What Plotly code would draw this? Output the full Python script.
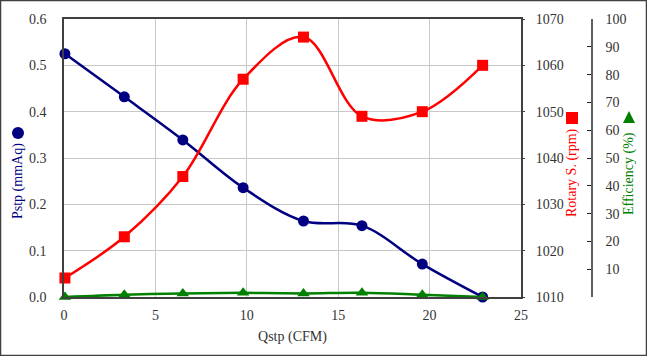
import plotly.graph_objects as go

W, H = 647, 356

qstp = [0.05, 3.3, 6.5, 9.8, 13.1, 16.3, 19.6, 22.9]
pstp = [0.525, 0.432, 0.339, 0.236, 0.164, 0.154, 0.071, 0.0]
rotary = [1014.1, 1023.0, 1036.0, 1057.0, 1066.1, 1049.0, 1050.0, 1060.0]
efficiency = [0.0, 0.8, 1.3, 1.5, 1.3, 1.5, 0.8, 0.0]

x_ticks = [0, 5, 10, 15, 20, 25]
p_ticks = [0.0, 0.1, 0.2, 0.3, 0.4, 0.5, 0.6]
r_ticks = [1010, 1020, 1030, 1040, 1050, 1060, 1070]
e_ticks = [0, 10, 20, 30, 40, 50, 60, 70, 80, 90, 100]
e_text = [""] + [str(v) for v in e_ticks[1:]]

FONT = "Liberation Serif, Times New Roman, serif"
BLUE, RED, GREEN = "#000080", "#ff0000", "#008000"
AXC = "#404040"

def px(x):
    return x / W

def py(y):
    return 1 - y / H

fig = go.Figure()
fig.add_trace(go.Scatter(x=qstp, y=pstp, mode="lines+markers", line=dict(color=BLUE, width=2.5, shape="spline"),
                         marker=dict(symbol="circle", size=11, color=BLUE), cliponaxis=False, yaxis="y"))
fig.add_trace(go.Scatter(x=qstp, y=rotary, mode="lines+markers", line=dict(color=RED, width=2.5, shape="spline"),
                         marker=dict(symbol="square", size=11, color=RED), cliponaxis=False, yaxis="y2"))
fig.add_trace(go.Scatter(x=qstp, y=efficiency, mode="lines+markers", line=dict(color=GREEN, width=2.5, shape="spline"),
                         marker=dict(symbol="triangle-up", size=11, color=GREEN), cliponaxis=False, yaxis="y3"))

x0, x1 = 64, 521
y0, y1 = 19, 297
tickfont = dict(family=FONT, size=14, color="#333333")

fig.update_layout(
    width=W, height=H, margin=dict(l=0, r=0, t=0, b=0, pad=0),
    paper_bgcolor="white", plot_bgcolor="white", showlegend=False,
    font=dict(family=FONT, size=14, color="#333333"),
    xaxis=dict(domain=[px(x0), px(x1)], range=[0, 25], tickvals=x_ticks, showgrid=True, gridcolor="#c8c8c8",
               gridwidth=1, showline=True, linecolor=AXC, linewidth=1.5, mirror=True, zeroline=False,
               ticks="", tickfont=tickfont, ticklabelstandoff=4, automargin=False,
               title=dict(text="Qstp (CFM)", font=dict(family=FONT, size=14, color="#333333"), standoff=10)),
    yaxis=dict(domain=[py(y1), py(y0)], range=[0, 0.6], tickvals=p_ticks, tickformat=".1f", showgrid=True,
               gridcolor="#c8c8c8", gridwidth=1, showline=True, linecolor=AXC, linewidth=1.5, mirror=True,
               zeroline=False, ticks="", tickfont=tickfont, ticklabelstandoff=13, automargin=False),
    yaxis2=dict(range=[1010, 1070], tickvals=r_ticks, overlaying="y", side="right", anchor="x",
                showgrid=False, zeroline=False, showline=False, ticks="outside", ticklen=3, tickcolor=AXC,
                tickfont=tickfont, ticklabelstandoff=8, automargin=False),
    yaxis3=dict(range=[0, 100], tickvals=e_ticks, ticktext=e_text, overlaying="y", side="right", anchor="free",
                position=px(592), showgrid=False, zeroline=False, showline=True, linecolor="#606060",
                linewidth=1.5, ticks="inside", ticklen=4, tickcolor="#202020", tickfont=tickfont,
                ticklabelstandoff=10, automargin=False),
)

annots = [
    dict(text="Pstp (mmAq)", x=px(18), y=py(181), color=BLUE),
    dict(text="Rotary S. (rpm)", x=px(572), y=py(173), color=RED),
    dict(text="Efficiency (%)", x=px(629), y=py(174), color=GREEN),
]
for a in annots:
    fig.add_annotation(text=a["text"], x=a["x"], y=a["y"], xref="paper", yref="paper", showarrow=False,
                       textangle=-90, font=dict(family=FONT, size=14, color=a["color"]),
                       xanchor="center", yanchor="middle")

# legend glyphs next to axis titles
fig.add_shape(type="circle", xref="paper", yref="paper", x0=px(12), x1=px(24), y0=py(139), y1=py(127),
              fillcolor=BLUE, line=dict(color=BLUE, width=0))
fig.add_shape(type="rect", xref="paper", yref="paper", x0=px(566), x1=px(578), y0=py(124), y1=py(112),
              fillcolor=RED, line=dict(color=RED, width=0))
fig.add_shape(type="path", xref="paper", yref="paper",
              path=f"M {px(623)} {py(123)} L {px(635)} {py(123)} L {px(629)} {py(111)} Z",
              fillcolor=GREEN, line=dict(color=GREEN, width=0))
# outer frame
fig.add_shape(type="rect", xref="paper", yref="paper", x0=0, x1=1, y0=0, y1=1,
              line=dict(color="#404040", width=2.5), fillcolor="rgba(0,0,0,0)", layer="above")

fig.write_html("out.html", config={"displayModeBar": False},
               post_script="document.body.style.margin='0';document.body.style.overflow='hidden';")
